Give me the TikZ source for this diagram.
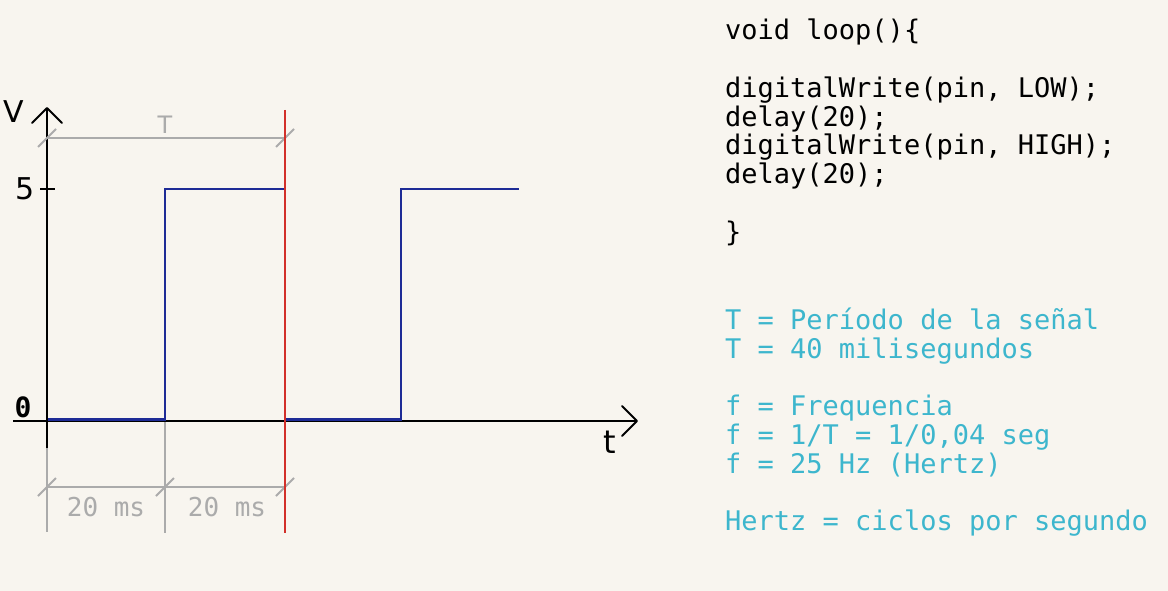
\documentclass[tikz,border=0pt]{standalone}
\usepackage{fontspec}
\setmainfont{DejaVu Sans}
\newfontfamily\codefont{DejaVu Sans Mono}
\usetikzlibrary{calc}
\definecolor{bgc}{HTML}{F8F5EF}
\definecolor{wave}{HTML}{1E2B96}
\definecolor{redl}{HTML}{D2302A}
\definecolor{dimg}{HTML}{ABABAB}
\definecolor{cyant}{HTML}{3DB6CD}
\tikzset{
  axis/.style={black, line width=2.1pt},
  wavel/.style={wave, line width=2.2pt},
  diml/.style={dimg, line width=2.1pt},
  redline/.style={redl, line width=2.2pt},
  codeline/.style={anchor=base west, inner sep=0pt, font=\codefont\fontsize{27}{29}\selectfont},
  cyanline/.style={codeline, text=cyant},
  axlabel/.style={inner sep=0pt, font=\fontsize{30}{32}\selectfont},
  dimlabel/.style={inner sep=0pt, text=dimg, font=\codefont\fontsize{26}{28}\selectfont},
}
\begin{document}
\begin{tikzpicture}[x=1pt, y=-1pt]
\useasboundingbox (0,0) rectangle (1168,591);
\fill[bgc] (0,0) rectangle (1168,591);
% coordinates
\coordinate (ytop) at (47,108);
\coordinate (ybot) at (47,448);
\coordinate (xl) at (13,421);
\coordinate (xr) at (637,421);
% dimension extension lines
\draw[diml] (47,448) -- (47,532);
\draw[diml] (165,421) -- (165,533);
% axes
\draw[axis] (ybot) -- (ytop);
\draw[axis, line cap=round, line join=round] ($(ytop)+(-15,15)$) -- (ytop) -- ($(ytop)+(15,15)$);
\draw[axis] (xl) -- (xr);
\draw[axis, line cap=round, line join=round] ($(xr)+(-15,-15)$) -- (xr) -- ($(xr)+(-15,15)$);
\draw[axis] (40,189) -- (55,189);
% waveform
\draw[wavel] (48,419.5) -- (165,419.5) -- (165,189) -- (285,189) -- (285,419.5) -- (401,419.5) -- (401,189) -- (519,189);
% T dimension
\coordinate (ta) at (47,138);
\coordinate (tb) at (285,138);
\draw[diml] (ta) -- (tb);
\draw[diml] ($(ta)+(-9,9)$) -- ($(ta)+(9,-9)$);
\draw[diml] ($(tb)+(-9,9)$) -- ($(tb)+(9,-9)$);
\node[inner sep=0pt, text=dimg, font=\fontsize{24}{26}\selectfont] (tlab) at (165,125) {T};
% 20 ms dimension
\coordinate (da) at (47,487);
\coordinate (dm) at (165,487);
\coordinate (db) at (285,487);
\draw[diml] (da) -- (db);
\foreach \p in {da,dm,db} \draw[diml] ($(\p)+(-9,9)$) -- ($(\p)+(9,-9)$);
\node[dimlabel] (d1) at (106,507) {20 ms};
\node[dimlabel] (d2) at (227,507) {20 ms};
% red line
\draw[redline] (285,110) -- (285,533);
% axis labels
\node[axlabel] (vlab) at (14,112) {V};
\node[axlabel] (five) at (25,189) {5};
\node[inner sep=0pt, font=\codefont\bfseries\fontsize{28}{30}\selectfont] (zero) at (23,407) {0};
\node[inner sep=0pt, font=\fontsize{32}{34}\selectfont] (tl) at (610,442) {t};
% code
\node[codeline] (c1) at (725,40) {void loop()\{};
\node[codeline] (c2) at (725,98) {digitalWrite(pin, LOW);};
\node[codeline] (c3) at (725,127) {delay(20);};
\node[codeline] (c4) at (725,155) {digitalWrite(pin, HIGH);};
\node[codeline] (c5) at (725,184) {delay(20);};
\node[codeline] (c6) at (725,241) {\}};
% notes
\node[cyanline] (n1) at (725,329) {T = Período de la señal};
\node[cyanline] (n2) at (725,358) {T = 40 milisegundos};
\node[cyanline] (n3) at (725,415) {f = Frequencia};
\node[cyanline] (n4) at (725,444) {f = 1/T = 1/0,04 seg};
\node[cyanline] (n5) at (725,473) {f = 25 Hz (Hertz)};
\node[cyanline] (n6) at (725,530) {Hertz = ciclos por segundo};
\end{tikzpicture}
\end{document}
